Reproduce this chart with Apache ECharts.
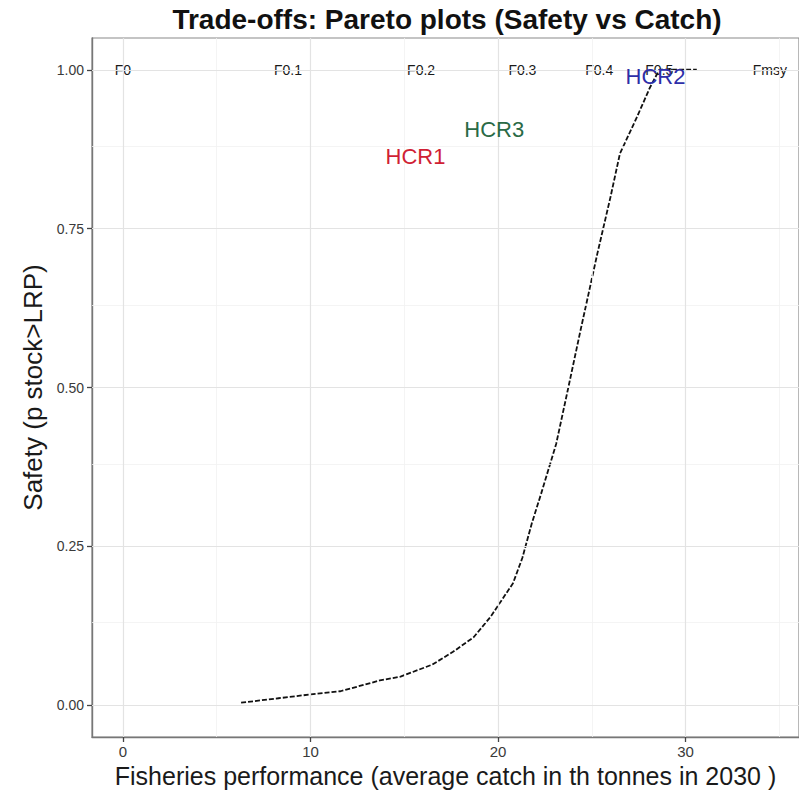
<!DOCTYPE html>
<html><head><meta charset="utf-8">
<script src="https://cdn.jsdelivr.net/npm/echarts@6/dist/echarts.min.js"></script>
<style>html,body{margin:0;padding:0;background:#fff}#c{width:799px;height:799px}</style>
</head><body><div id="c"></div>
<script>
// Pareto curve: catch (thousand tonnes) vs safety
const catchVals  = [6.3, 8.3, 10.0, 11.6, 13.7, 14.8, 16.5, 17.6, 18.7, 19.6, 20.8, 21.3, 21.8, 22.3, 23.1, 23.75, 24.4, 25.3, 26.0, 26.5, 27.4, 28.1, 28.6, 29.5, 30.6];
const safetyVals = [0.004, 0.011, 0.017, 0.022, 0.039, 0.045, 0.064, 0.084, 0.107, 0.139, 0.192, 0.232, 0.286, 0.333, 0.411, 0.50, 0.59, 0.711, 0.80, 0.868, 0.925, 0.972, 1.0, 1.0, 1.0];

// F reference labels along the top
const fLabels = ['F0', 'F0.1', 'F0.2', 'F0.3', 'F0.4', 'F0.5', 'Fmsy'];
const fX      = [0, 8.8, 15.9, 21.3, 25.4, 28.6, 34.5];
const fY      = [1, 1, 1, 1, 1, 1, 1];

// HCR labels
const hcrNames  = ['HCR1', 'HCR3', 'HCR2'];
const hcrX      = [15.6, 19.8, 28.4];
const hcrY      = [0.863, 0.906, 0.989];
const hcrColors = ['#d01f35', '#2a6a46', '#2e2ea8'];

// axes
const xTicks = [0, 10, 20, 30];
const yTicks = [0, 0.25, 0.5, 0.75, 1];
const xMinor = [5, 15, 25, 35];
const yMinor = [0.125, 0.375, 0.625, 0.875];
const xMin = -1.65, xMax = 36.05, yMin = -0.05, yMax = 1.05;

const titleText = 'Trade-offs: Pareto plots (Safety vs Catch)';
const xTitle = 'Fisheries performance (average catch in th tonnes in 2030 )';
const yTitle = 'Safety (p stock>LRP)';

const FONT = '"Liberation Sans", Arial, sans-serif';
const majorStyle = {color: '#e3e3e3', width: 1.2, type: 'solid'};
const minorStyle = {color: '#f1f1f1', width: 0.8, type: 'solid'};

const gridLines = []
  .concat(xMinor.map(v => ({xAxis: v, lineStyle: minorStyle})))
  .concat(yMinor.map(v => ({yAxis: v, lineStyle: minorStyle})))
  .concat(xTicks.map(v => ({xAxis: v, lineStyle: majorStyle})))
  .concat(yTicks.map(v => ({yAxis: v, lineStyle: majorStyle})));

const chart = echarts.init(document.getElementById('c'), null, {renderer: 'svg'});
chart.setOption({
  animation: false,
  backgroundColor: '#ffffff',
  textStyle: {fontFamily: FONT},
  graphic: [{
    type: 'text', x: 447, y: 19, z: 10,
    style: {text: titleText, align: 'center', verticalAlign: 'middle',
            font: 'bold 28px "Liberation Sans", Arial, sans-serif', fill: '#111'}
  }],
  grid: {left: 92, right: 0, top: 38, bottom: 62, show: true, borderColor: '#8a8a8a', borderWidth: 1.2, backgroundColor: 'transparent'},
  xAxis: {
    type: 'value', min: xMin, max: xMax,
    name: xTitle, nameLocation: 'middle', nameGap: 19,
    nameTextStyle: {fontSize: 25, color: '#1a1a1a', fontFamily: FONT},
    axisLine: {show: true, onZero: false, lineStyle: {color: '#777', width: 1.4}},
    axisTick: {show: true, customValues: xTicks, length: 5, lineStyle: {color: '#444', width: 1.3}},
    axisLabel: {customValues: xTicks, fontSize: 15, color: '#3a3a3a', margin: 7, fontFamily: FONT},
    splitLine: {show: false}
  },
  yAxis: {
    type: 'value', min: yMin, max: yMax,
    name: yTitle, nameLocation: 'middle', nameGap: 46,
    nameTextStyle: {fontSize: 26, color: '#1a1a1a', fontFamily: FONT},
    axisLine: {show: true, onZero: false, lineStyle: {color: '#777', width: 1.4}},
    axisTick: {show: true, customValues: yTicks, length: 5, lineStyle: {color: '#444', width: 1.3}},
    axisLabel: {customValues: yTicks, fontSize: 14, color: '#3a3a3a', margin: 8, fontFamily: FONT,
                formatter: v => v.toFixed(2)},
    splitLine: {show: false}
  },
  series: [
    {
      type: 'scatter', data: [[xTicks[0], yTicks[0]]], symbolSize: 0, z: 1, silent: true,
      markLine: {silent: true, symbol: ['none', 'none'], label: {show: false}, data: gridLines, animation: false}
    },
    {
      type: 'line', z: 3,
      data: catchVals.map((x, i) => [x, safetyVals[i]]),
      showSymbol: false, smooth: false,
      lineStyle: {color: '#111', width: 1.8, type: [5, 2]}
    },
    {
      type: 'scatter', z: 4, symbolSize: 0, silent: true,
      itemStyle: {opacity: 1},
      data: fX.map((x, i) => ({value: [x, fY[i]], name: fLabels[i]})),
      label: {show: true, position: 'inside', formatter: p => p.name, fontSize: 14, color: '#1a1a1a', opacity: 1, fontFamily: FONT}
    },
    {
      type: 'scatter', z: 5, symbolSize: 0, silent: true,
      itemStyle: {opacity: 1},
      data: hcrX.map((x, i) => ({value: [x, hcrY[i]], name: hcrNames[i],
        label: {color: hcrColors[i]}})),
      label: {show: true, position: 'inside', formatter: p => p.name, fontSize: 22, opacity: 1, fontFamily: FONT}
    }
  ]
});
</script>
</body></html>
